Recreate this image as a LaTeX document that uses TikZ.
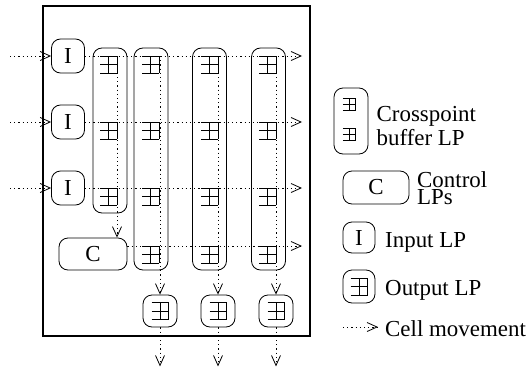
\documentclass[tikz,border=0pt]{standalone}
\usepackage{fontspec}
\setmainfont{Liberation Serif}
\usetikzlibrary{arrows.meta,calc,positioning}
\tikzset {
  >={Straight Barb[length=10bp,width=9bp]},
  every node/.style={font=\rmfamily\fontsize{23}{24}\selectfont},
  lp/.style={draw,rounded corners=9bp,inner sep=0pt,line width=.8bp},
  cell/.style={->,line width=.8bp,dash pattern=on 1.2bp off 3bp},
  txt/.style={inner sep=0pt,anchor=base west},
  xpq/.pic={
    \draw[line width=.8bp] (-17,0) -- (0,0) (-17,-8.5) -- (0,-8.5) (-17,-17) -- (0,-17)
      (-8.5,0) -- (-8.5,-17) (0,0) -- (0,-17);
  },
}

\begin{document}
\begin{tikzpicture}[x=1bp,y=1bp]
          \useasboundingbox (0,0) rectangle (532,371);
          \draw[line width=1.2bp] (43,35) rectangle (310,365);
          % input, control and output LPs
          \node[lp,minimum width=33bp,minimum height=34bp] (in1) at (68,315) {I};
          \node[lp,minimum width=33bp,minimum height=34bp] (in2) at (68,249) {I};
          \node[lp,minimum width=33bp,minimum height=34bp] (in3) at (68,183) {I};
          \node[lp,minimum width=68bp,minimum height=32bp] (ctl) at (93,117) {C};
          \node[lp,minimum width=34bp,minimum height=165bp] (col1) at (110,240.5) {};
          \node[lp,minimum width=34bp,minimum height=222bp] (col2) at (151,212) {};
          \node[lp,minimum width=34bp,minimum height=222bp] (col3) at (209.5,212) {};
          \node[lp,minimum width=34bp,minimum height=222bp] (col4) at (268.5,212) {};
          \node[lp,minimum width=34bp,minimum height=32bp] (out2) at (160,60) {};
          \node[lp,minimum width=34bp,minimum height=32bp] (out3) at (218,60) {};
          \node[lp,minimum width=34bp,minimum height=32bp] (out4) at (276,60) {};
          % crosspoint buffers
          \pic at (117,315) {xpq};
          \pic at (117,249) {xpq};
          \pic at (117,183) {xpq};
          \pic at (159,315) {xpq};
          \pic at (159,249) {xpq};
          \pic at (159,183) {xpq};
          \pic at (159,125) {xpq};
          \pic at (218,315) {xpq};
          \pic at (218,249) {xpq};
          \pic at (218,183) {xpq};
          \pic at (218,125) {xpq};
          \pic at (276,315) {xpq};
          \pic at (276,249) {xpq};
          \pic at (276,183) {xpq};
          \pic at (276,125) {xpq};
          \pic at ($(out2)+(8.5,8.5)$) {xpq};
          \pic at ($(out3)+(8.5,8.5)$) {xpq};
          \pic at ($(out4)+(8.5,8.5)$) {xpq};
          % cell movement
          \coordinate (src1) at (10,315);
          \coordinate (src2) at (10,249);
          \coordinate (src3) at (10,183);
          \coordinate (snk1) at (302,315);
          \coordinate (snk2) at (302,249);
          \coordinate (snk3) at (302,183);
          \coordinate (snk4) at (302,125);
          \coordinate (v1) at (117,315);
          \coordinate (v2) at (160,315);
          \coordinate (v3) at (218,315);
          \coordinate (v4) at (276,315);
          \draw[cell] (src1) -- (in1);
          \draw[cell] (src2) -- (in2);
          \draw[cell] (src3) -- (in3);
          \draw[cell] (in1) -- (snk1);
          \draw[cell] (in2) -- (snk2);
          \draw[cell] (in3) -- (snk3);
          \draw[cell] (ctl.east |- snk4) -- (snk4);
          \draw[cell] (v1) -- (v1 |- ctl.north);
          \draw[cell] (v2) -- (out2.north);
          \draw[cell] (v3) -- (out3.north);
          \draw[cell] (v4) -- (out4.north);
          \draw[cell] (out2.south) -- ++(0,-39);
          \draw[cell] (out3.south) -- ++(0,-39);
          \draw[cell] (out4.south) -- ++(0,-39);
          % legend
          \node[lp,minimum width=34bp,minimum height=66bp] (lgxp) at (351,250) {};
          \pic[scale=.75] at (355.5,273) {xpq};
          \pic[scale=.75] at (355.5,243) {xpq};
          \node[inner sep=0pt,anchor=west,align=left] (lgxpt) at (376.5,245) {Crosspoint\\buffer LP};
          \node[lp,minimum width=66bp,minimum height=33bp] (lgctl) at (376,183.5) {C};
          \node[inner sep=0pt,anchor=west,align=left,font=\rmfamily\fontsize{23}{17}\selectfont] (lgctlt) at (417,183) {Control\\LPs};
          \node[lp,minimum width=32bp,minimum height=31bp] (lgin) at (359,133.5) {I};
          \node[txt] (lgint) at (385,124) {Input LP};
          \node[lp,minimum width=32bp,minimum height=33bp] (lgout) at (359,84.5) {};
          \pic at ($(lgout)+(8.5,8.5)$) {xpq};
          \node[txt] (lgoutt) at (385,76) {Output LP};
          \coordinate (lgcs) at (343,44);
          \coordinate (lgce) at (378,44);
          \draw[cell] (lgcs) -- (lgce);
          \node[txt] (lgcellt) at (385,35) {Cell movement};
        \end{tikzpicture}
\end{document}
